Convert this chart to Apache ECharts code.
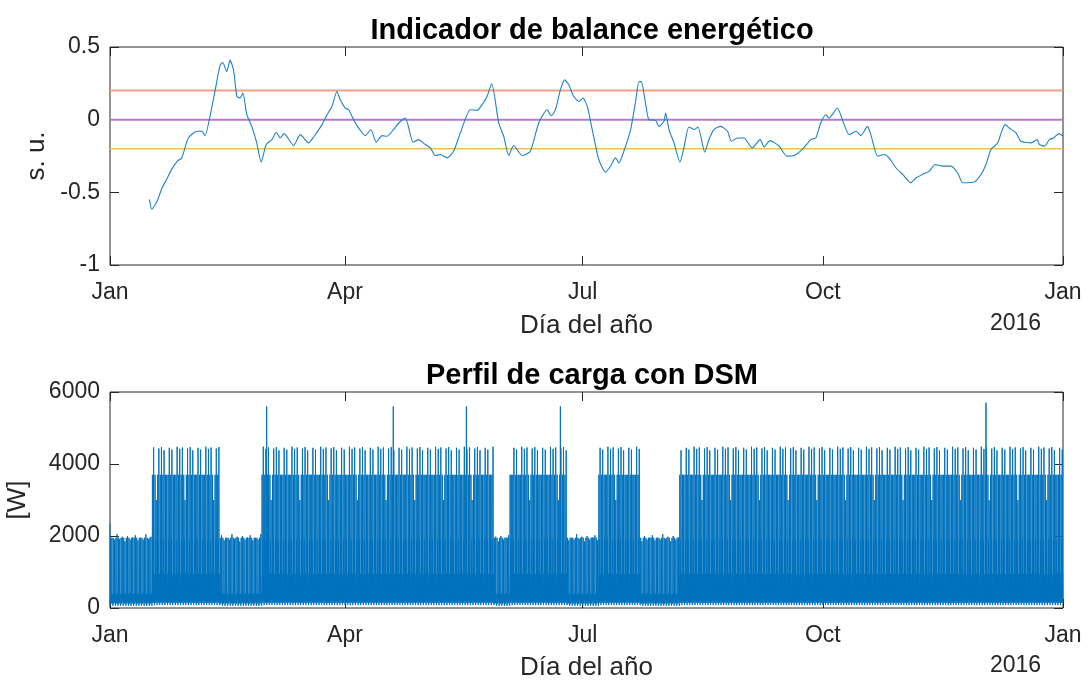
<!DOCTYPE html>
<html>
<head>
<meta charset="utf-8">
<script src="https://cdn.jsdelivr.net/npm/echarts@6.0.0/dist/echarts.min.js"></script>
<style>
  html, body { margin: 0; padding: 0; background: #fff; }
  #main { width: 1088px; height: 682px; }
</style>
</head>
<body>
<div id="main"></div>
<script>
// eje x: día del año 2015 (0 = 1 ene, 365 = 1 ene 2016)
var monthTicks = [0, 90, 181, 273, 365];
var monthLabels = ['Jan', 'Apr', 'Jul', 'Oct', 'Jan'];

// indicador de balance energético
var balanceDays = [15.1, 16, 18.1, 19.8, 21.7, 23.6, 25.8, 27.5, 30, 33.2, 35.2, 36.4, 38.3, 40.3, 42.2, 43.2, 44.7, 46, 47.3, 48.6,
    49.8, 50.9, 52.4, 54.3, 56.2, 57.9, 59.8, 62, 63.7, 65.2, 66.7, 70.3, 72.9, 76, 78, 81.2, 83.1, 85, 86.9, 88.2,
    90.1, 91.4, 93.3, 95.2, 97.8, 99.9, 102, 104.2, 106.1, 108.6, 110.6, 113.1, 116.1, 118.2, 120.8, 122.7, 124.6, 126.5, 129.1, 131.6,
    134.2, 138, 140.6, 142.5, 144.4, 146.2, 148.9, 150.8, 152.7, 154.6, 157.9, 161, 164.2, 167.4, 169, 170.6, 172.5, 174.1, 175.7, 177.6,
    179.6, 181.2, 182.8, 184.7, 187.2, 189.8, 191.7, 193.6, 194.9, 196.8, 199.4, 201.3, 202.6, 203.5, 205.1, 206.4, 209, 210.2, 212.2, 212.8,
    214.1, 216, 218.3, 219.8, 221.7, 223.7, 225.2, 227.8, 229.4, 231.3, 233.9, 236.5, 238, 240.3, 242.8, 246, 249, 250.5, 252.8, 256.3,
    259.2, 262, 265.2, 268.4, 270.3, 272.2, 274.2, 275.4, 278.6, 280.5, 283.1, 285.7, 287.6, 290.1, 291.4, 294, 296.5, 298.4, 301, 303.6,
    306.7, 308.7, 311.2, 313.8, 316, 318.9, 322.1, 324.6, 326.6, 331, 333.6, 335.5, 337.4, 340, 341.3, 342.8, 344.4, 347, 348.9, 352.8,
    355.1, 356, 357.9, 359.8, 361.5, 362.3, 363.6, 364.9];
var balanceValues = [-0.548, -0.616, -0.56, -0.475, -0.41, -0.342, -0.285, -0.263, -0.126, -0.08, -0.08, -0.11, 0.023, 0.205, 0.377, 0.393, 0.331, 0.41, 0.342, 0.16,
    0.148, 0.183, 0.034, -0.046, -0.16, -0.292, -0.171, -0.137, -0.087, -0.126, -0.096, -0.178, -0.103, -0.16, -0.119, -0.034, 0.034, 0.091, 0.194, 0.137,
    0.08, 0.068, 0, -0.057, -0.11, -0.068, -0.155, -0.11, -0.114, -0.068, -0.023, 0.011, -0.155, -0.137, -0.171, -0.194, -0.247, -0.24, -0.263, -0.217,
    -0.091, 0.068, 0.064, 0.103, 0.16, 0.247, -0.023, -0.114, -0.247, -0.178, -0.247, -0.217, -0.023, 0.068, 0.027, 0.068, 0.205, 0.274, 0.24, 0.16,
    0.125, 0.148, 0.091, -0.068, -0.274, -0.361, -0.32, -0.263, -0.297, -0.217, -0.068, 0.125, 0.262, 0.262, 0.114, 0, -0.005, -0.046, -0.011, 0.046,
    -0.068, -0.16, -0.292, -0.194, -0.05, -0.068, -0.05, -0.224, -0.137, -0.068, -0.046, -0.08, -0.148, -0.126, -0.126, -0.194, -0.137, -0.187, -0.144, -0.183,
    -0.251, -0.247, -0.205, -0.137, -0.126, -0.023, 0.034, 0.011, 0.08, 0, -0.103, -0.08, -0.11, -0.046, -0.103, -0.251, -0.24, -0.263, -0.331, -0.377,
    -0.434, -0.4, -0.377, -0.354, -0.308, -0.32, -0.32, -0.365, -0.434, -0.429, -0.377, -0.308, -0.205, -0.16, -0.091, -0.034, -0.057, -0.091, -0.148, -0.16,
    -0.137, -0.171, -0.183, -0.137, -0.126, -0.11, -0.096, -0.114];

// umbrales horizontales
var thresholdValues = [0.2, 0, -0.2];
var thresholdColors = ['#F2A183', '#B27BC4', '#F1BE5A'];
var thresholdWidths = [2, 2, 1.3];

// perfil de carga: periodos de ocupación baja / alta (día de inicio)
var periodStart = [0, 16, 42, 58, 147, 153, 174.5, 187, 203, 218];
var periodMode = ['low', 'high', 'low', 'high', 'low', 'high', 'low', 'high', 'low', 'high'];
// perfiles horarios típicos [W]
var hourlyHigh = [120, 80, 60, 60, 80, 950, 3700, 500, 200, 950, 150, 1900, 600, 150, 950, 200, 900, 4450, 980, 300, 950, 600, 400, 150];
var hourlyLow = [120, 80, 60, 60, 80, 400, 1950, 350, 150, 380, 120, 400, 300, 150, 380, 200, 400, 1900, 380, 250, 400, 300, 300, 120];
var peakHour = 17;
// pico diario (ciclo de 11 días)
var cycleTopHigh = [4450, 4400, 3700, 4480, 4420, 4460, 3000, 4430, 4470, 4380, 3700];
var cycleTopLow = [1950, 1900, 2050, 1920, 1980, 1850, 2000, 1900, 1960, 2020, 1880];
// picos aislados
var spikeDays = [0, 60, 108.5, 136.5, 172.5, 335.5];
var spikeLoads = [2350, 5600, 5600, 5600, 5600, 5700];

function modeOfDay(d) {
    var m = periodMode[0];
    for (var i = 0; i < periodStart.length; i++) {
        if (d >= periodStart[i]) m = periodMode[i];
    }
    return m;
}

var loadData = [];
for (var d = 0; d < 365; d++) {
    var mode = modeOfDay(d);
    var prof = mode === 'high' ? hourlyHigh : hourlyLow;
    var k = d % cycleTopHigh.length;
    for (var h = 0; h < 24; h++) {
        var v = prof[h];
        if (h === peakHour) v = mode === 'high' ? cycleTopHigh[k] : cycleTopLow[k];
        loadData.push([d + h / 24, v]);
    }
}
spikeDays.forEach(function (sd, i) {
    var idx = Math.min(Math.round(sd * 24), loadData.length - 1);
    loadData[idx][1] = spikeLoads[i];
});

var balanceData = balanceDays.map(function (d, i) { return [d, balanceValues[i]]; });

var myChart = echarts.init(document.getElementById('main'));

var FONT = 'Liberation Sans';
var AX = '#262626';

function monthFmt(v) {
    var i = monthTicks.indexOf(Math.round(v));
    return i >= 0 ? monthLabels[i] : '';
}

function xMain(gridIndex, gap) {
    return {
        type: 'value', gridIndex: gridIndex, min: 0, max: 365, position: 'bottom',
        name: 'Día del año', nameLocation: 'middle', nameGap: gap,
        nameTextStyle: { fontFamily: FONT, fontSize: 26, color: AX },
        axisLine: { show: false, onZero: false },
        axisTick: { show: true, inside: true, length: 9, customValues: monthTicks, lineStyle: { color: AX } },
        axisLabel: { customValues: monthTicks, formatter: monthFmt, margin: 16, fontFamily: FONT, fontSize: 23, color: AX, showMaxLabel: true, showMinLabel: true },
        splitLine: { show: false }
    };
}
function xMirror(gridIndex) {
    return {
        type: 'value', gridIndex: gridIndex, min: 0, max: 365, position: 'top',
        axisLine: { show: false, onZero: false },
        axisTick: { show: true, inside: true, length: 9, customValues: monthTicks, lineStyle: { color: AX } },
        axisLabel: { show: false },
        splitLine: { show: false }
    };
}
function yMain(gridIndex, min, max, interval, name, gap) {
    return {
        type: 'value', gridIndex: gridIndex, min: min, max: max, interval: interval, position: 'left',
        name: name, nameLocation: 'middle', nameGap: gap, nameRotate: 90,
        nameTextStyle: { fontFamily: FONT, fontSize: 26, color: AX },
        axisLine: { show: false, onZero: false },
        axisTick: { show: true, inside: true, length: 9, lineStyle: { color: AX } },
        axisLabel: { margin: 10, fontFamily: FONT, fontSize: 23, color: AX, formatter: function (v) { return String(v); } },
        splitLine: { show: false }
    };
}
function yMirror(gridIndex, min, max, interval) {
    return {
        type: 'value', gridIndex: gridIndex, min: min, max: max, interval: interval, position: 'right',
        axisLine: { show: false, onZero: false },
        axisTick: { show: true, inside: true, length: 9, lineStyle: { color: AX } },
        axisLabel: { show: false },
        splitLine: { show: false }
    };
}

var series = [];
thresholdValues.forEach(function (t, i) {
    series.push({
        type: 'line', xAxisIndex: 0, yAxisIndex: 0,
        data: [[0, t], [365, t]],
        showSymbol: false, silent: true,
        lineStyle: { color: thresholdColors[i], width: thresholdWidths[i] }
    });
});
series.push({
    type: 'line', xAxisIndex: 0, yAxisIndex: 0, data: balanceData,
    showSymbol: false, smooth: 0.2,
    lineStyle: { color: '#1F80C8', width: 1.1 }
});
series.push({
    type: 'line', xAxisIndex: 2, yAxisIndex: 2, data: loadData,
    showSymbol: false, sampling: null,
    lineStyle: { color: '#0072BD', width: 1 }
});

var option = {
    backgroundColor: '#ffffff',
    animation: false,
    title: [
        { text: 'Indicador de balance energético', left: 587, top: 11, textAlign: 'center',
          textStyle: { fontFamily: FONT, fontSize: 29, fontWeight: 'bold', color: '#000' } },
        { text: 'Perfil de carga con DSM', left: 587, top: 356, textAlign: 'center',
          textStyle: { fontFamily: FONT, fontSize: 29, fontWeight: 'bold', color: '#000' } }
    ],
    grid: [
        { left: 110, top: 47, width: 953, height: 218, show: true, borderColor: AX, borderWidth: 1,
          backgroundColor: 'transparent', outerBoundsMode: 'none' },
        { left: 110, top: 392, width: 953, height: 216, show: true, borderColor: AX, borderWidth: 1,
          backgroundColor: 'transparent', outerBoundsMode: 'none' }
    ],
    xAxis: [xMain(0, 48), xMirror(0), xMain(1, 47), xMirror(1)],
    yAxis: [
        yMain(0, -1, 0.5, 0.5, 's. u.', 57),
        yMirror(0, -1, 0.5, 0.5),
        yMain(1, 0, 6000, 2000, '[W]', 79),
        yMirror(1, 0, 6000, 2000)
    ],
    graphic: [
        { type: 'text', left: 990, top: 312, style: { text: '2016', font: '23px ' + FONT, fill: AX } },
        { type: 'text', left: 990, top: 654, style: { text: '2016', font: '23px ' + FONT, fill: AX } }
    ],
    series: series
};

myChart.setOption(option);
</script>
</body>
</html>
